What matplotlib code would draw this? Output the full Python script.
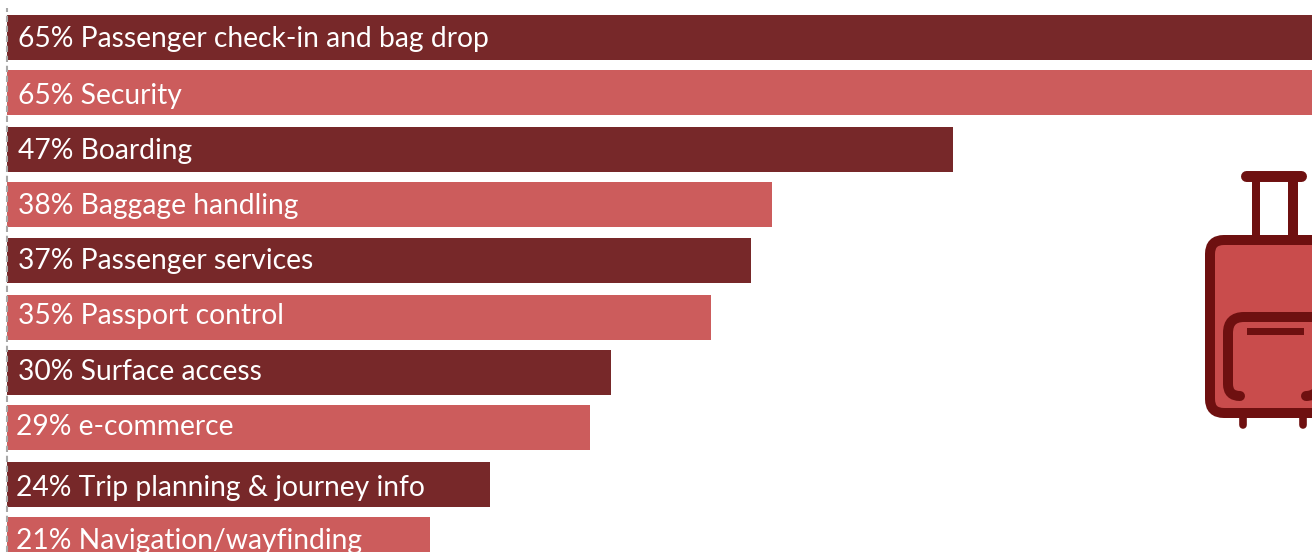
import matplotlib
matplotlib.use('Agg')
import matplotlib.pyplot as plt
from matplotlib.patches import FancyBboxPatch, PathPatch, Rectangle
from matplotlib.path import Path

plt.rcParams['font.family'] = ['Lato', 'Open Sans', 'DejaVu Sans']
plt.rcParams['text.hinting'] = 'no_autohint'
plt.rcParams['text.hinting_factor'] = 8
plt.rcParams['text.kerning_factor'] = 0

categories = ['Passenger check-in and bag drop', 'Security', 'Boarding',
              'Baggage handling', 'Passenger services', 'Passport control',
              'Surface access', 'e-commerce', 'Trip planning & journey info',
              'Navigation/wayfinding']
values = [65, 65, 47, 38, 37, 35, 30, 29, 24, 21]

# layout, in pixels of the picture
bar_tops = [15, 70, 127, 182, 238, 295, 350, 405, 462, 517]
baselines = [47, 104, 159, 214, 269, 324, 380, 435, 496, 549]
label_x = [18, 18, 18, 18, 18, 18, 18, 16, 16, 16]
bar_h = 45
px_per_pct = 20.12
x0 = 7

dark = '#772829'
light = '#CC5C5C'
icon_dark = '#6E1010'
icon_fill = '#C94C4C'

W, H = 1312, 552
fig = plt.figure(figsize=(W / 100, H / 100), dpi=100)

ax = fig.add_axes([0, 0, 1, 1])
ax.set_xlim(-x0 / px_per_pct, (W - x0) / px_per_pct)
ax.set_ylim(H, 0)
ax.axis('off')

colors = [dark if i % 2 == 0 else light for i in range(len(values))]
centers = [t + bar_h / 2 for t in bar_tops]
ax.barh(centers, values, height=bar_h, color=colors, linewidth=0)
ax.axvline(0, color='#a8a8a8', lw=1.5, ls=(0, (3, 1.8)), zorder=3, ymin=0, ymax=1 - 8 / H)

# overlay in pixel coordinates for labels and the suitcase
ov = fig.add_axes([0, 0, 1, 1])
ov.set_xlim(0, W)
ov.set_ylim(H, 0)
ov.axis('off')
ov.patch.set_alpha(0)

for v, c, x, y in zip(values, categories, label_x, baselines):
    ov.text(x, y, f'{v}% {c}', color='white', fontsize=20.3, va='baseline', ha='left')

# suitcase
ov.add_patch(Rectangle((1252, 176), 7.5, 62, color=icon_dark, lw=0))
ov.add_patch(Rectangle((1288, 176), 10, 62, color=icon_dark, lw=0))
ov.plot([1246, 1301], [175.5, 175.5], color=icon_dark, lw=7.9, solid_capstyle='round')
ov.plot([1243, 1243], [415, 425], color=icon_dark, lw=5.5, solid_capstyle='round')
ov.plot([1302.5, 1302.5], [415, 425], color=icon_dark, lw=5.5, solid_capstyle='round')
body = FancyBboxPatch((1210, 240), 145, 173, boxstyle='round,pad=0,rounding_size=14',
                      facecolor=icon_fill, edgecolor=icon_dark, lw=7.2)
ov.add_patch(body)
pocket = Path([(1240, 396), (1228, 396), (1228, 384), (1228, 333), (1228, 317), (1244, 317),
               (1318, 317), (1330, 317), (1330, 333), (1330, 384), (1330, 396), (1306, 396)],
              [Path.MOVETO, Path.CURVE3, Path.CURVE3, Path.LINETO, Path.CURVE3, Path.CURVE3,
               Path.LINETO, Path.CURVE3, Path.CURVE3, Path.LINETO, Path.CURVE3, Path.CURVE3])
ov.add_patch(PathPatch(pocket, facecolor='none', edgecolor=icon_dark, lw=7.2, capstyle='round'))
ov.add_patch(Rectangle((1247, 328), 57, 7, color=icon_dark, lw=0))
ov.set_xlim(0, W)
ov.set_ylim(H, 0)

fig.savefig('out.png', dpi=100)
